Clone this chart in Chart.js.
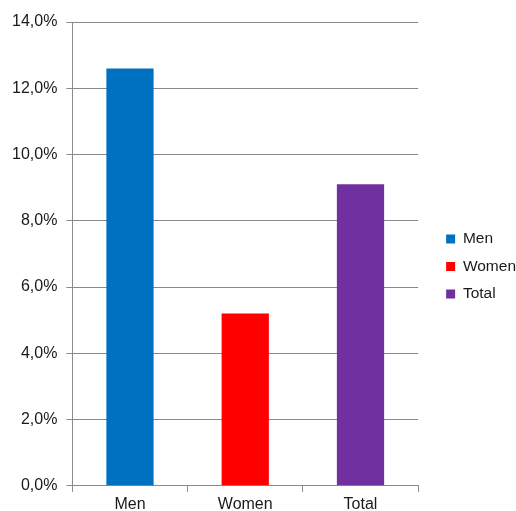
<!DOCTYPE html>
<html>
<head>
<meta charset="utf-8">
<script src="https://cdn.jsdelivr.net/npm/chart.js@4/dist/chart.umd.min.js"></script>
<style>
  html, body { margin: 0; padding: 0; background: #fff; }
  #wrap { width: 516px; height: 511px; }
</style>
</head>
<body>
<div id="wrap"><canvas id="grafico"></canvas></div>
<script>
// datos
var categorias = ["Men", "Women", "Total"];
var valores = [12.6, 5.2, 9.1];
var colores = ["#0070C0", "#FF0000", "#7030A0"];
var yMin = 0, yMax = 14, yPaso = 2;

var texto = "#1a1a1a";
var gris = "#8a8a8a";

// mueve la leyenda un poco a la derecha, como en el original
var correrLeyenda = {
  id: "correrLeyenda",
  afterLayout: function (chart) {
    var lg = chart.legend;
    lg.left += 16;
    lg.right += 16;
    lg.top -= 3;
    lg.bottom -= 3;
  },
};

var ctx = document.getElementById("grafico").getContext("2d");

var myChart = new Chart(ctx, {
  type: "bar",
  data: {
    labels: categorias,
    datasets: [
      {
        label: "valor",
        data: valores,
        backgroundColor: colores,
        borderWidth: 0,
        barPercentage: 0.41,
        categoryPercentage: 1,
      },
    ],
  },
  options: {
    responsive: true,
    maintainAspectRatio: false,
    animation: false,
    layout: {
      padding: { top: 22, left: 3, right: 6, bottom: -6 },
    },
    scales: {
      x: {
        grid: {
          offset: true,
          drawOnChartArea: false,
          tickLength: 6,
          color: gris,
        },
        border: { color: gris },
        ticks: {
          color: texto,
          padding: 3,
          font: { family: "Liberation Sans", size: 16 },
        },
      },
      y: {
        min: yMin,
        max: yMax,
        grid: {
          color: gris,
          tickLength: 6,
        },
        border: { color: gris },
        ticks: {
          stepSize: yPaso,
          color: texto,
          padding: 9,
          font: { family: "Liberation Sans", size: 16 },
          callback: function (v) {
            return v.toFixed(1).replace(".", ",") + "%";
          },
        },
      },
    },
    plugins: {
      tooltip: { enabled: false },
      legend: {
        position: "right",
        labels: {
          boxWidth: 9,
          boxHeight: 9,
          padding: 12,
          color: texto,
          font: { family: "Liberation Sans", size: 15.5 },
          generateLabels: function () {
            return categorias.map(function (c, i) {
              return {
                text: c,
                fillStyle: colores[i],
                strokeStyle: colores[i],
                lineWidth: 0,
                fontColor: texto,
                index: i,
              };
            });
          },
        },
      },
    },
  },
  plugins: [correrLeyenda],
});
</script>
</body>
</html>
